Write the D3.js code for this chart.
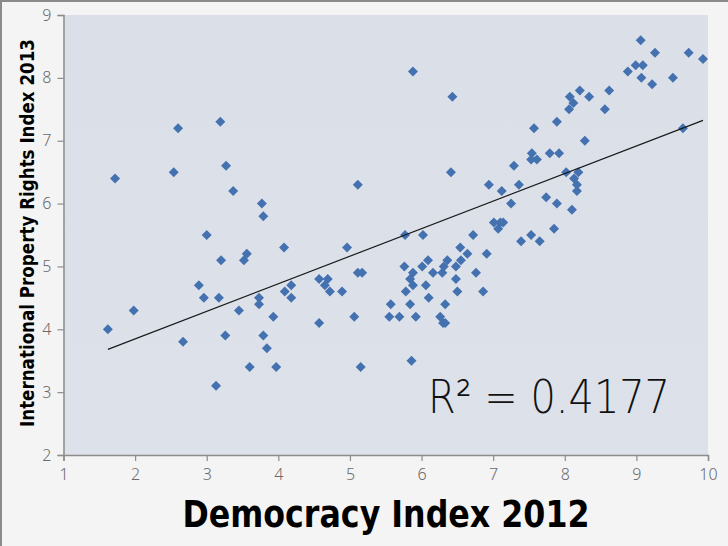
<!DOCTYPE html>
<html><head><meta charset="utf-8">
<script src="https://cdn.jsdelivr.net/npm/d3@7"></script>
<style>
html,body{margin:0;padding:0;background:#f4f4f4;}
svg{display:block;}
</style></head>
<body>
<svg id="chart" width="728" height="546"></svg>
<script>
// Democracy Index 2012 (x) vs International Property Rights Index 2013 (y)
const democracy = [
1.62,1.72,1.98,2.54,2.60,2.67,2.89,2.96,3.00,3.13,3.17,3.19,3.20,3.26,3.27,3.37,3.45,3.52,3.56,3.60,
3.73,3.73,3.77,3.79,3.79,3.84,3.93,3.97,4.08,4.09,4.18,4.18,4.57,4.57,4.65,4.69,4.72,4.89,4.96,5.06,
5.11,5.11,5.17,5.15,5.88,6.43,6.41,5.77,6.02,6.72,6.94,5.76,5.88,6.01,6.09,6.16,6.29,6.31,6.36,6.48,
6.55,6.54,6.64,6.91,6.76,6.48,5.84,5.88,6.06,5.78,6.50,6.86,6.10,5.57,5.84,6.33,5.55,5.69,5.92,6.26,
6.30,6.33,5.86,9.06,9.26,9.73,9.93,8.88,8.99,9.09,9.07,9.22,9.51,9.65,8.21,8.62,8.07,8.12,8.06,8.34,
8.56,7.89,7.57,8.28,7.54,7.79,7.92,7.53,7.61,7.29,8.02,8.19,8.13,8.17,8.17,7.12,7.36,7.25,7.74,7.89,
8.10,7.01,7.10,7.14,7.07,7.85,7.53,7.39,7.65
];
const propertyRights = [
4.0,6.4,4.3,6.5,7.2,3.8,4.7,4.5,5.5,3.1,4.5,7.3,5.1,3.9,6.6,6.2,4.3,5.1,5.2,3.4,
4.5,4.4,6.0,5.8,3.9,3.7,4.2,3.4,5.3,4.6,4.7,4.5,4.8,4.1,4.7,4.8,4.6,4.6,5.3,4.2,
6.3,4.9,4.9,3.4,8.1,7.7,6.5,5.5,5.5,5.5,6.3,5.0,4.9,5.0,5.1,4.9,4.9,5.0,5.1,5.0,
5.1,5.3,5.2,5.2,4.9,4.8,4.8,4.7,4.7,4.6,4.6,4.6,4.5,4.4,4.4,4.4,4.2,4.2,4.2,4.2,
4.1,4.1,3.5,8.6,8.4,8.4,8.3,8.1,8.2,8.2,8.0,7.9,8.0,7.2,7.8,7.8,7.7,7.6,7.5,7.7,
7.5,7.3,7.2,7.0,6.8,6.8,6.8,6.7,6.7,6.6,6.5,6.5,6.4,6.3,6.2,6.2,6.3,6.0,6.1,6.0,
5.9,5.7,5.7,5.7,5.6,5.6,5.5,5.4,5.4
];
const xTicks = [1,2,3,4,5,6,7,8,9,10];
const yTicks = [2,3,4,5,6,7,8,9];
const xTitle = "Democracy Index 2012";
const yTitle = "International Property Rights Index 2013";
const r2Label = "R² = 0.4177";

const svg = d3.select("#chart");
const W = 728, H = 546;
const m = {left:63.5, right:708, top:15, bottom:455};

// outer frame
svg.append("rect").attr("x",0).attr("y",0).attr("width",W).attr("height",H).attr("fill","#f4f4f4");
svg.append("line").attr("x1",0).attr("x2",W).attr("y1",1).attr("y2",1).attr("stroke","#8a8a8a").attr("stroke-width",2);
svg.append("line").attr("x1",1).attr("x2",1).attr("y1",0).attr("y2",H).attr("stroke","#8a8a8a").attr("stroke-width",2);

const x = d3.scaleLinear().domain([1,10]).range([m.left, m.right]);
const y = d3.scaleLinear().domain([2,9]).range([m.bottom, m.top]);

// plot area
const grad = svg.append("defs").append("linearGradient").attr("id","bg").attr("x1",0).attr("y1",0).attr("x2",0).attr("y2",1);
grad.append("stop").attr("offset","0%").attr("stop-color","#dbe0e8");
grad.append("stop").attr("offset","100%").attr("stop-color","#dde2ea");
svg.append("rect").attr("x",m.left).attr("y",m.top).attr("width",m.right-m.left).attr("height",m.bottom-m.top).attr("fill","url(#bg)");

const tickFont = "'Noto Sans', 'DejaVu Sans', sans-serif";

// axes
const xAxis = svg.append("g").attr("transform",`translate(0,${m.bottom})`)
  .call(d3.axisBottom(x).tickValues(xTicks).tickSize(6).tickPadding(8).tickFormat(d3.format("d")));
const yAxis = svg.append("g").attr("transform",`translate(${m.left},0)`)
  .call(d3.axisLeft(y).tickValues(yTicks).tickSize(6).tickPadding(6).tickFormat(d3.format("d")));
[xAxis,yAxis].forEach(a=>{
  a.select(".domain").attr("stroke","#8c8c8c").attr("stroke-width",1.5);
  a.selectAll(".tick line").attr("stroke","#8c8c8c").attr("stroke-width",1.2);
  a.selectAll(".tick text").attr("fill","#6a6a6a").style("font-family",tickFont).style("font-weight","300").style("font-size","16px");
});

// points
const pts = democracy.map((d,i)=>({x:d,y:propertyRights[i]}));
const diamond = d3.symbol().type(d3.symbolSquare).size(50);
svg.append("g").selectAll("path").data(pts).join("path")
  .attr("d", diamond)
  .attr("transform", d=>`translate(${x(d.x)},${y(d.y)}) rotate(45)`)
  .attr("fill","#4472b0");

// linear trendline (least squares)
const mx = d3.mean(democracy), my = d3.mean(propertyRights);
let sxy=0, sxx=0;
democracy.forEach((d,i)=>{sxy+=(d-mx)*(propertyRights[i]-my); sxx+=(d-mx)*(d-mx);});
const slope = sxy/sxx, intercept = my - slope*mx;
const [x0,x1] = d3.extent(democracy);
svg.append("line")
  .attr("x1",x(x0)).attr("y1",y(intercept+slope*x0))
  .attr("x2",x(x1)).attr("y2",y(intercept+slope*x1))
  .attr("stroke","#1a1a1a").attr("stroke-width",1.2);

// R² label
svg.append("text").attr("x",428).attr("y",413)
  .style("font-family","'DejaVu Sans', sans-serif").style("font-weight","300").style("font-size","46px")
  .attr("fill","#111").attr("textLength",242).attr("lengthAdjust","spacingAndGlyphs").text(r2Label);

// axis titles
svg.append("text").attr("x",386).attr("y",527).attr("text-anchor","middle")
  .style("font-family","'DejaVu Sans', sans-serif").style("font-weight","bold").style("font-size","38px")
  .attr("textLength",407).attr("lengthAdjust","spacingAndGlyphs")
  .attr("fill","#000").text(xTitle);
svg.append("text").attr("transform","translate(34,233) rotate(-90)").attr("text-anchor","middle")
  .style("font-family","'DejaVu Sans', sans-serif").style("font-weight","bold").style("font-size","19px")
  .attr("textLength",388).attr("lengthAdjust","spacingAndGlyphs")
  .attr("fill","#000").text(yTitle);
</script>
</body></html>
